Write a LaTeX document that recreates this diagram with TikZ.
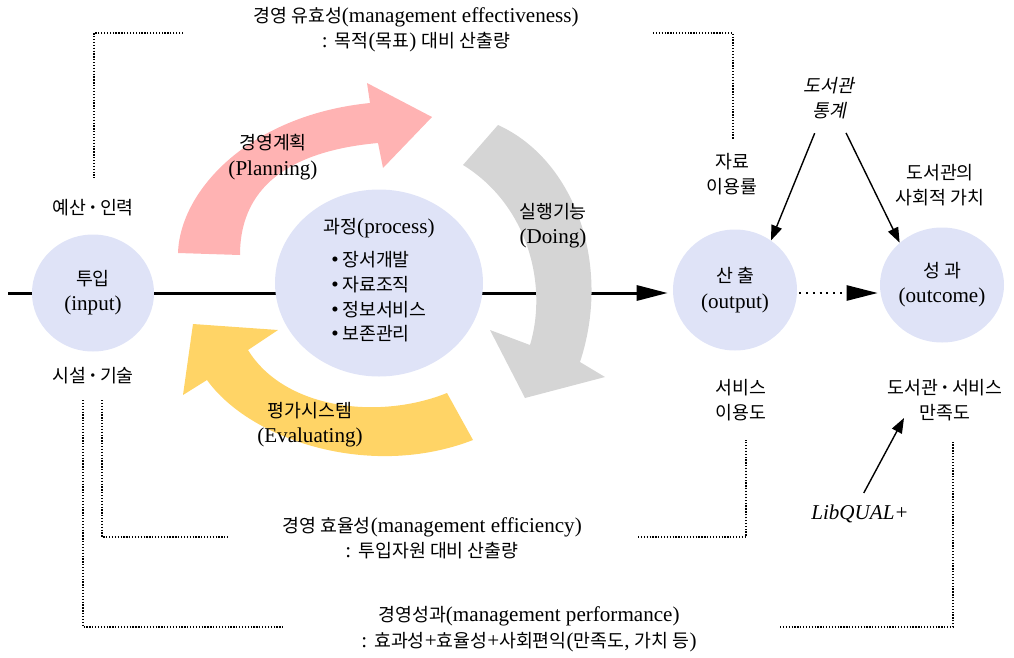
\documentclass[tikz,border=0pt]{standalone}
\usepackage{fontspec}
\setmainfont{Liberation Serif}
\newfontfamily\krfont[Scale=0.87]{Noto Sans CJK KR}
\newfontfamily\kritfont[Scale=0.87,FakeSlant=0.2]{Noto Sans CJK KR}
\newcommand{\kor}[1]{{\krfont #1}}
\newcommand{\korit}[1]{{\kritfont #1}}
\newcommand{\mdot}{\,\textbf{·}\,}
\usetikzlibrary{arrows.meta,shapes.geometric}
\definecolor{stagefill}{HTML}{DFE3F7}
\definecolor{planpink}{HTML}{FFB3B3}
\definecolor{doinggray}{HTML}{D5D5D5}
\definecolor{evalyellow}{HTML}{FFD466}
\renewcommand{\arraystretch}{0.97}

\begin{document}
\begin{tikzpicture}[x=0.25mm, y=-0.25mm,
  stage/.style={ellipse, fill=stagefill, inner sep=0pt, align=center, font=\fontsize{15}{18}\selectfont},
  lbl/.style={align=center, font=\fontsize{15}{18}\selectfont},
  flow/.style={-{Triangle[length=7.75mm,width=3.75mm]}, line width=0.75mm},
  dotflow/.style={-{Triangle[length=7.75mm,width=3.75mm]}, line width=0.6mm, dash pattern=on 0.5mm off 1.2mm},
  link/.style={-{Triangle[length=3.75mm,width=2.75mm]}, line width=0.35mm},
  guide/.style={line width=0.32mm, dash pattern=on 0.32mm off 0.4mm}]
  \useasboundingbox (0,0) rectangle (1014,658);

  % output side
  \node[stage, minimum width=31mm, minimum height=30.25mm] (out) at (735,290) {\kor{산 출}\\(output)};
  \node[stage, minimum width=31mm, minimum height=28.75mm] (outc) at (942,285) {\kor{성 과}\\(outcome)};

  % main flow
  \coordinate (start) at (8,293);
  \draw[flow, shorten >=1.25mm] (start) -- (start -| out.west);
  \draw[dotflow, shorten <=0.5mm, shorten >=0.5mm] (out.east |- start) -- (outc.west |- start);

  % management cycle
  \fill[planpink] (178,253) .. controls (180,190) and (250,115) .. (370,103) -- (367,83) -- (432,117) -- (383,168) -- (378,143) .. controls (300,150) and (240,180) .. (240,255) -- cycle;
  \fill[doinggray] (498,125) .. controls (575,160) and (612,265) .. (580,362) -- (605,377) -- (525,398) -- (490,330) -- (530,345) .. controls (548,285) and (528,205) .. (463,165) -- cycle;
  \fill[evalyellow] (248,350) -- (278,330) -- (193,324) -- (183,395) -- (207,380) .. controls (250,440) and (370,480) .. (473,440) -- (447,393) .. controls (380,420) and (285,410) .. (248,350) -- cycle;

  % input and process
  \node[stage, minimum width=30.5mm, minimum height=29.25mm] (inp) at (93,293) {\kor{투입}\\(input)};
  \node[stage, minimum width=52mm, minimum height=46.75mm] (proc) at (379,283) {\kor{과정}(process)\\[2.1mm]
    \begin{tabular}[t]{@{}l@{}}•\,\kor{장서개발}\\ •\,\kor{자료조직}\\ •\,\kor{정보서비스}\\ •\,\kor{보존관리}\end{tabular}};

  % labels
  \node[lbl] (eff) at (416,30) {\kor{경영 유효성}(management effectiveness)\\: \kor{목적}(\kor{목표}) \kor{대비 산출량}};
  \node[lbl] (effc) at (432,538) {\kor{경영 효율성}(management efficiency)\\: \kor{투입자원 대비 산출량}};
  \node[lbl] (perf) at (529,629) {\kor{경영성과}(management performance)\\: \kor{효과성}+\kor{효율성}+\kor{사회편익}(\kor{만족도}, \kor{가치 등})};
  \node[lbl] (res) at (93,208) {\kor{예산}\mdot\kor{인력}};
  \node[lbl] (fac) at (93,376) {\kor{시설}\mdot\kor{기술}};
  \node[lbl] (plan) at (273,157) {\kor{경영계획}\\(Planning)};
  \node[lbl] (doing) at (553,226) {\kor{실행기능}\\(Doing)};
  \node[lbl] (eval) at (310,425) {\kor{평가시스템}\\(Evaluating)};
  \node[lbl] (stat) at (829,98) {\korit{도서관}\\\korit{통계}};
  \node[lbl] (use) at (732,174) {\kor{자료}\\\kor{이용률}};
  \node[lbl] (soc) at (940,185) {\kor{도서관의}\\\kor{사회적 가치}};
  \node[lbl] (srv) at (741,400) {\kor{서비스}\\\kor{이용도}};
  \node[lbl] (sat) at (945,400) {\kor{도서관}\mdot\kor{서비스}\\\kor{만족도}};
  \node[lbl, font=\fontsize{15}{18}\selectfont\itshape] (lib) at (860,514) {LibQUAL+};

  % dotted brackets
  \coordinate (effA) at (183,33);  \coordinate (effB) at (94,178);
  \coordinate (effC) at (653,33);  \coordinate (effD) at (733,140);
  \coordinate (effcA) at (102,400); \coordinate (effcB) at (229,537);
  \coordinate (effcC) at (638,537); \coordinate (effcD) at (746,440);
  \coordinate (perfA) at (83,400);  \coordinate (perfB) at (283,627);
  \coordinate (perfC) at (780,627); \coordinate (perfD) at (953,440);
  \draw[guide] (effA) -| (effB);
  \draw[guide] (effC) -| (effD);
  \draw[guide] (effcA) |- (effcB);
  \draw[guide] (effcC) -| (effcD);
  \draw[guide] (perfA) |- (perfB);
  \draw[guide] (perfC) -| (perfD);

  % measures
  \draw[link, shorten <=2.5mm] (stat) -- (out.54);
  \draw[link, shorten <=2.5mm] (stat) -- (outc.135);
  \coordinate (satTip) at (904,418);
  \draw[link, shorten <=2mm] (lib.north) -- (satTip);
\end{tikzpicture}
\end{document}
